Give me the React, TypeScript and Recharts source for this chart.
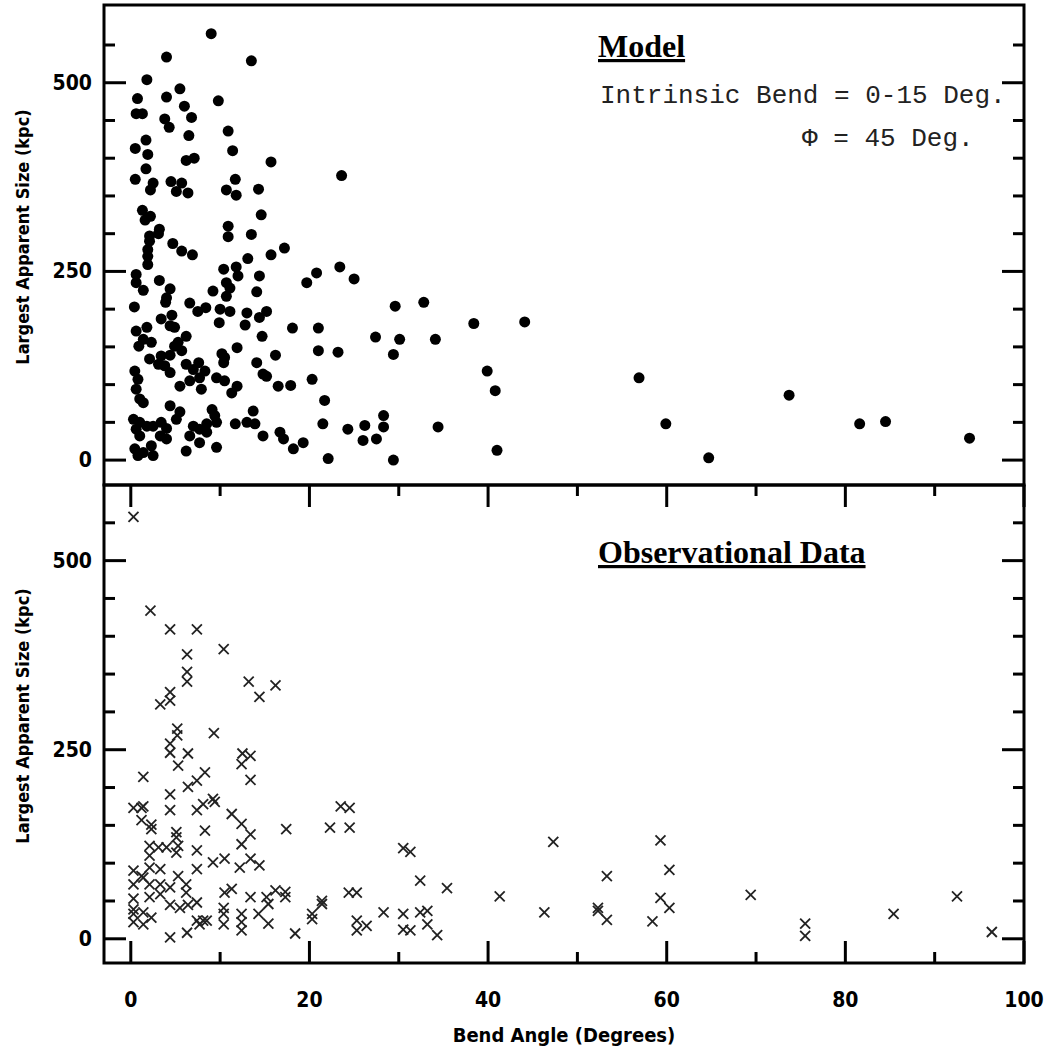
import { ScatterChart, Scatter, XAxis, YAxis, ReferenceArea, Label } from 'recharts';

// Model panel: bend angle (deg) vs largest apparent size (kpc)
const modelX = [
  9.0, 4.0, 13.5, 1.8, 5.5, 0.75, 4.0, 9.8, 6.0, 0.6, 1.3, 3.8, 4.3, 6.8, 10.9, 6.5, 0.5, 1.7, 1.9, 11.4,
  15.7, 6.2, 7.1, 1.7, 0.5, 2.5, 2.2, 4.5, 5.7, 5.1, 6.4, 10.7, 11.7, 11.8, 14.3, 14.6, 1.3, 1.6, 2.2, 10.9,
  13.5, 10.9, 2.1, 3.2, 3.1,
  2.1, 1.9, 1.9, 1.9, 4.7, 5.7, 6.9, 15.7, 13.1, 10.4, 11.8, 12.0, 14.4, 0.6, 0.6, 1.4, 3.2, 4.4, 4.0, 3.9,
  9.2, 10.7, 10.7, 11.1, 14.1, 0.4, 6.6, 7.5, 8.4, 10.0, 9.9, 11.1, 13.0, 12.8, 14.4, 15.2, 3.4, 4.6, 4.4, 4.9,
  0.6, 1.8, 1.4, 0.9, 2.3, 6.2, 5.3, 4.9, 5.7, 14.7, 11.9, 10.2, 10.5, 10.4, 16.2, 2.1, 3.4, 4.4, 3.8, 4.4,
  3.1, 0.45, 0.8, 0.6, 1.0, 1.4, 6.2, 7.0, 7.6, 8.3, 7.7, 6.6, 5.5, 7.9, 9.6, 10.5, 11.9, 11.3, 14.1, 14.8,
  15.2, 16.5, 4.4, 5.5, 5.1, 0.3, 1.0, 0.6, 1.8, 1.0, 2.5, 3.4, 4.0, 3.3, 4.0, 0.45, 0.8, 1.4, 2.3, 2.5,
  7.0, 7.7, 8.5, 9.1, 9.4, 9.6, 6.6, 7.7, 8.5, 6.2, 9.6, 11.7, 13.0, 13.7, 13.9, 14.8, 16.7,
  23.6, 17.2, 19.7, 20.8, 23.4, 25.0, 18.1, 21.0, 27.4, 30.1, 34.1, 29.6, 32.8, 38.4, 44.1, 21.0, 23.2, 29.4,
  17.9, 20.3, 39.9, 40.8, 21.7, 21.5, 24.3, 26.2, 28.3, 28.3, 26.0, 27.5, 17.1, 18.2, 19.3, 34.4, 22.1, 29.4, 41.0,
  56.9, 59.9, 64.7, 73.7, 81.6, 84.5, 93.9,
];
const modelY = [
  565, 534, 529, 504, 492, 479, 481, 476, 469, 459, 459, 452, 441, 454, 436, 430, 413, 424, 405, 410,
  395, 397, 400, 386, 372, 367, 358, 369, 367, 356, 354, 358, 372, 351, 359, 325, 331, 318, 323, 310,
  299, 296, 297, 306, 300,
  290, 279, 270, 259, 287, 277, 272, 272, 267, 253, 256, 244, 244, 246, 235, 225, 238, 227, 215, 209,
  224, 235, 217, 228, 223, 203, 208, 197, 202, 200, 182, 197, 195, 179, 189, 197, 187, 192, 178, 176,
  171, 176, 160, 151, 156, 164, 156, 151, 145, 164, 149, 141, 136, 129, 139, 134, 138, 139, 125, 116,
  127, 118, 107, 94, 81, 76, 127, 120, 129, 118, 109, 105, 98, 94, 109, 105, 98, 89, 129, 114,
  111, 98, 72, 64, 54, 54, 50, 41, 45, 32, 45, 50, 42, 32, 28, 15, 6, 10, 19, 6,
  45, 41, 48, 67, 59, 50, 32, 23, 37, 12, 17, 48, 50, 65, 48, 32, 37,
  377, 281, 235, 248, 256, 240, 175, 175, 163, 160, 160, 204, 209, 181, 183, 145, 143, 140,
  99, 107, 118, 92, 79, 48, 41, 46, 59, 44, 26, 28, 28, 15, 23, 44, 2, 0, 13,
  109, 48, 3, 86, 48, 51, 29,
];

// Observational panel
const obsX = [
  0.3, 2.2, 4.4, 7.4, 10.4, 6.3, 6.3, 6.3, 13.2, 14.4, 16.2, 4.4, 4.4, 3.3, 5.2, 5.2, 4.4, 4.4, 6.4, 9.3,
  5.3, 1.4, 12.5, 13.4, 12.4, 13.4, 8.3, 7.4, 6.4, 4.4, 4.4, 9.2, 9.4, 8.1, 7.4, 0.3, 1.2, 1.4, 1.2, 2.3,
  11.3, 12.4, 2.3, 5.1, 5.1, 8.3, 13.4, 12.4, 2.1, 3.1, 4.0, 5.3, 5.1, 2.1, 2.1, 3.3, 7.4, 7.4, 9.2, 10.5,
  12.2, 13.4, 14.4, 0.3, 0.3, 1.2, 1.4, 2.1, 3.3, 2.1, 3.3, 4.4, 5.3, 6.2, 6.2, 10.5, 11.3, 13.4, 15.2, 16.2,
  0.3, 0.3, 0.3, 1.4, 2.3, 0.3, 1.4, 4.4, 5.5, 6.4, 7.4, 7.4, 8.1, 7.7, 8.5, 10.4, 10.4, 10.4, 12.4, 12.4,
  12.4, 14.3, 15.4, 15.4, 4.4, 6.3,
  23.5, 24.5, 17.4, 22.3, 24.5, 30.5, 31.3, 32.4, 35.4, 41.3, 46.3, 47.3, 17.3, 17.3, 18.4, 20.3, 20.3, 21.4,
  21.4, 24.4, 25.3, 25.3, 25.3, 26.4, 28.3, 30.5, 30.5, 31.3, 32.4, 33.2, 33.2, 34.3,
  59.3, 60.3, 53.3, 52.3, 52.3, 53.3, 59.3, 60.3, 58.4, 69.4, 75.5, 75.5, 85.4, 92.5, 96.4,
];
const obsY = [
  558, 434, 409, 409, 383, 376, 353, 340, 340, 320, 335, 326, 315, 310, 278, 269, 258, 246, 245, 272,
  229, 214, 245, 242, 231, 210, 220, 209, 201, 191, 170, 185, 181, 178, 170, 173, 173, 175, 157, 151,
  165, 152, 145, 141, 134, 143, 138, 125, 123, 121, 121, 123, 114, 110, 94, 92, 117, 92, 101, 106,
  94, 106, 97, 90, 72, 83, 81, 72, 72, 55, 59, 68, 83, 72, 61, 61, 66, 55, 55, 64,
  53, 39, 33, 35, 28, 22, 19, 45, 41, 45, 48, 24, 24, 19, 24, 41, 33, 19, 33, 22,
  11, 33, 46, 20, 2, 8,
  175, 173, 145, 147, 147, 120, 115, 77, 67, 56, 35, 128, 62, 55, 7, 33, 26, 50,
  46, 61, 61, 24, 11, 17, 35, 33, 12, 11, 35, 37, 19, 5,
  130, 91, 83, 41, 37, 25, 54, 41, 23, 58, 20, 4, 33, 56, 9,
];

const xTicks = [0, 10, 20, 30, 40, 50, 60, 70, 80, 90, 100];
const xLabelTicks = [0, 20, 40, 60, 80, 100];
const yTicks = [0, 50, 100, 150, 200, 250, 300, 350, 400, 450, 500, 550];
const yLabelTicks = [0, 250, 500];

const X_DOMAIN: [number, number] = [-3, 100];
const TOP_DOMAIN: [number, number] = [-33, 603];
const BOT_DOMAIN: [number, number] = [-32, 600];

const PLOT_LEFT = 104;
const PLOT_W = 920;
const TOP_PLOT_H = 480;
const BOT_PLOT_H = 478;

const AXIS_FONT = "'DejaVu Sans Condensed', 'DejaVu Sans', sans-serif";

const modelData = modelX.map((x, i) => ({ x, y: modelY[i] }));
const obsData = obsX.map((x, i) => ({ x, y: obsY[i] }));

// ticks drawn inward on both sides, labels only on major values
function yTick(props: any) {
  const { x, y, payload } = props;
  const major = yLabelTicks.includes(payload.value);
  const len = major ? 22 : 11;
  return (
    <g>
      <line x1={x} y1={y} x2={x + len} y2={y} stroke="#000" strokeWidth={3} />
      <line x1={x + PLOT_W} y1={y} x2={x + PLOT_W - len} y2={y} stroke="#000" strokeWidth={3} />
      {major && (
        <text x={x - 12} y={y} textAnchor="end" dominantBaseline="central"
          fontFamily={AXIS_FONT} fontWeight="bold" fontSize={21} fill="#000">
          {payload.value}
        </text>
      )}
    </g>
  );
}

function makeXTick(plotH: number, showLabels: boolean) {
  return (props: any) => {
    const { x, y, payload } = props;
    const major = xLabelTicks.includes(payload.value);
    const len = major ? 22 : 11;
    return (
      <g>
        <line x1={x} y1={y} x2={x} y2={y - len} stroke="#000" strokeWidth={3} />
        <line x1={x} y1={y - plotH} x2={x} y2={y - plotH + len} stroke="#000" strokeWidth={3} />
        {showLabels && major && (
          <text x={x} y={y + 37} textAnchor="middle" dominantBaseline="central"
            fontFamily={AXIS_FONT} fontWeight="bold" fontSize={21} fill="#000">
            {payload.value}
          </text>
        )}
      </g>
    );
  };
}

function YTitle(props: any) {
  const { viewBox } = props;
  const cx = 22;
  const cy = viewBox.y + viewBox.height / 2 - 8;
  return (
    <text x={cx} y={cy} transform={`rotate(-90, ${cx}, ${cy})`} textAnchor="middle"
      dominantBaseline="central" fontFamily={AXIS_FONT} fontWeight="bold" fontSize={18} fill="#000">
      Largest Apparent Size (kpc)
    </text>
  );
}

function XTitle(props: any) {
  const { viewBox } = props;
  return (
    <text x={viewBox.x + viewBox.width / 2} y={viewBox.y + 72} textAnchor="middle"
      dominantBaseline="central" fontFamily={AXIS_FONT} fontWeight="bold" fontSize={20} fill="#000">
      Bend Angle (Degrees)
    </text>
  );
}

const Dot = (p: any) => <circle cx={p.cx} cy={p.cy} r={5.5} fill="#000" />;

const Cross = (p: any) => (
  <g stroke="#222" strokeWidth={1.8}>
    <line x1={p.cx - 5} y1={p.cy - 5} x2={p.cx + 5} y2={p.cy + 5} />
    <line x1={p.cx - 5} y1={p.cy + 5} x2={p.cx + 5} y2={p.cy - 5} />
  </g>
);

export default function App() {
  return (
    <div style={{ position: 'absolute', left: 0, top: 0, width: 1054, height: 1050, background: '#fff' }}>
      {/* Painel superior: modelo */}
      <div style={{ position: 'absolute', left: 0, top: 0 }}>
        <ScatterChart width={1054} height={490} margin={{ top: 5, right: 30, bottom: 5, left: 0 }}>
          <XAxis type="number" dataKey="x" domain={X_DOMAIN} ticks={xTicks} interval={0}
            height={0} tickSize={0} tickMargin={0} tickLine={false} axisLine={false}
            allowDataOverflow tick={makeXTick(TOP_PLOT_H, false)} />
          <YAxis type="number" dataKey="y" domain={TOP_DOMAIN} ticks={yTicks} interval={0}
            width={PLOT_LEFT} tickSize={0} tickMargin={0} tickLine={false} axisLine={false}
            allowDataOverflow tick={yTick}>
            <Label content={YTitle} />
          </YAxis>
          <ReferenceArea x1={X_DOMAIN[0]} x2={X_DOMAIN[1]} y1={TOP_DOMAIN[0]} y2={TOP_DOMAIN[1]}
            fill="none" stroke="#000" strokeWidth={3} />
          <Scatter data={modelData} dataKey="y" shape={Dot} isAnimationActive={false} />
        </ScatterChart>
      </div>

      {/* Painel inferior: dados observacionais */}
      <div style={{ position: 'absolute', left: 0, top: 480 }}>
        <ScatterChart width={1054} height={570} margin={{ top: 5, right: 30, bottom: 0, left: 0 }}>
          <XAxis type="number" dataKey="x" domain={X_DOMAIN} ticks={xTicks} interval={0}
            height={87} tickSize={0} tickMargin={0} tickLine={false} axisLine={false}
            allowDataOverflow tick={makeXTick(BOT_PLOT_H, true)}>
            <Label content={XTitle} />
          </XAxis>
          <YAxis type="number" dataKey="y" domain={BOT_DOMAIN} ticks={yTicks} interval={0}
            width={PLOT_LEFT} tickSize={0} tickMargin={0} tickLine={false} axisLine={false}
            allowDataOverflow tick={yTick}>
            <Label content={YTitle} />
          </YAxis>
          <ReferenceArea x1={X_DOMAIN[0]} x2={X_DOMAIN[1]} y1={BOT_DOMAIN[0]} y2={BOT_DOMAIN[1]}
            fill="none" stroke="#000" strokeWidth={3} />
          <Scatter data={obsData} dataKey="y" shape={Cross} isAnimationActive={false} />
        </ScatterChart>
      </div>

      {/* Anotações */}
      <svg width={1054} height={1050} style={{ position: 'absolute', left: 0, top: 0, pointerEvents: 'none' }}>
        <text x={598} y={57} fontFamily="'Liberation Serif', 'Times New Roman', serif" fontWeight="bold"
          fontSize={32} textDecoration="underline" fill="#000">Model</text>
        <text x={600} y={103} fontFamily="'Liberation Mono', 'Courier New', monospace" fontSize={26} fill="#222">
          Intrinsic Bend = 0-15 Deg.
        </text>
        <text x={802} y={146} fontFamily="'Liberation Mono', 'Courier New', monospace" fontSize={26} fill="#222">
          Φ = 45 Deg.
        </text>
        <text x={598} y={563} fontFamily="'Liberation Serif', 'Times New Roman', serif" fontWeight="bold"
          fontSize={32} textDecoration="underline" fill="#000">Observational Data</text>
      </svg>
    </div>
  );
}
